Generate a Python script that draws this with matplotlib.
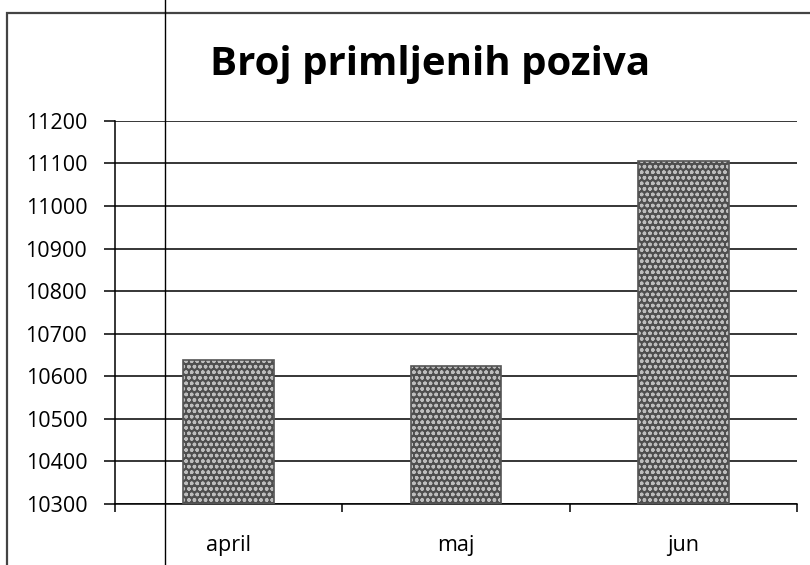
import numpy as np
import matplotlib.pyplot as plt
from matplotlib.patches import Rectangle
from matplotlib.lines import Line2D

months = ['april', 'maj', 'jun']
calls = [10638, 10624, 11105]
y_ticks = list(range(10300, 11201, 100))

plt.rcParams['font.family'] = ['Open Sans', 'DejaVu Sans']

fig = plt.figure(figsize=(8.1, 5.65), dpi=100)
ax = fig.add_axes([0.142, 0.108, 0.842, 0.678])

x = np.arange(len(months))
# gray speckled fill, roughly like the scanned texture
ax.bar(x, np.array(calls) - 10300, bottom=10300, width=0.4, color='#4e4e4e',
       hatch='ooo', edgecolor='#bdbdbd', linewidth=0, zorder=3)
ax.bar(x, np.array(calls) - 10300, bottom=10300, width=0.4, fill=False,
       edgecolor='#555555', linewidth=1.2, zorder=4)

ax.set_ylim(10300, 11200)
ax.set_xlim(-0.5, 2.5)
ax.set_yticks(y_ticks)
ax.set_yticklabels([str(v) for v in y_ticks], fontsize=15.5)
ax.yaxis.grid(True, color='black', linewidth=1.1)
ax.set_axisbelow(True)

ax.set_xticks([-0.5, 0.5, 1.5, 2.5])
ax.set_xticklabels([])
ax.set_xticks(x, minor=True)
ax.set_xticklabels(months, minor=True, fontsize=15.5)
ax.tick_params(axis='x', which='minor', length=0, pad=22)
ax.tick_params(axis='x', which='major', length=6, width=1.1, direction='out')
ax.tick_params(axis='y', length=8, width=1.1, direction='out', pad=12)

for s in ['top', 'right']:
    ax.spines[s].set_visible(False)
ax.spines['left'].set_linewidth(1.1)
ax.spines['bottom'].set_linewidth(1.1)

fig.text(0.531, 0.885, 'Broj primljenih poziva', ha='center', va='center',
         fontsize=29, fontweight='bold')

# outer chart frame and the page line from the scan
fig.add_artist(Rectangle((7 / 810, -0.1), 1.2, 1 - 13 / 565 + 0.1,
                         transform=fig.transFigure, fill=False,
                         edgecolor='#444444', linewidth=1.6))
fig.add_artist(Line2D([165 / 810, 165 / 810], [0, 1], transform=fig.transFigure,
                      color='black', linewidth=1.0))

fig.savefig('out.png', dpi=100, facecolor='white')
